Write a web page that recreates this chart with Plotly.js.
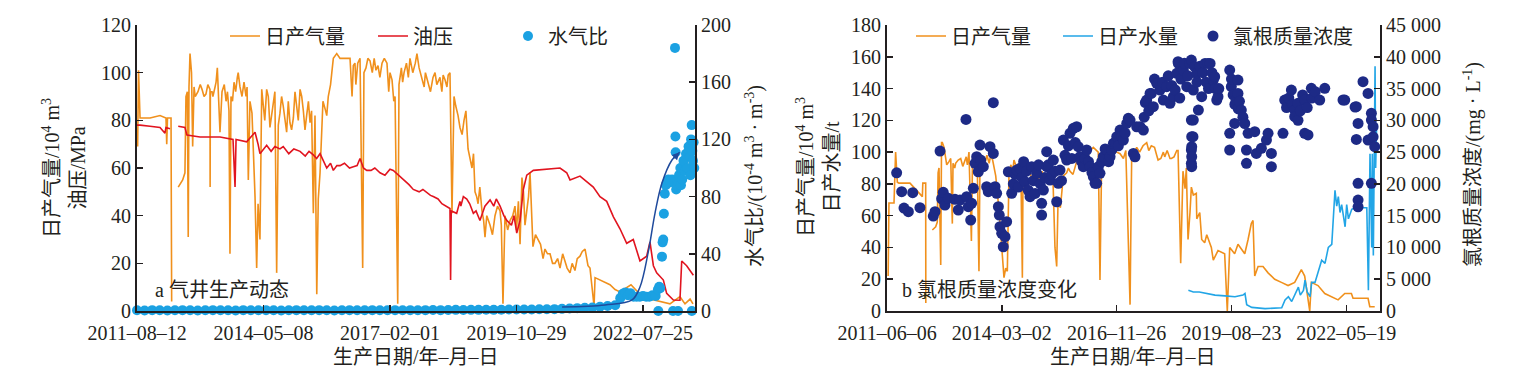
<!DOCTYPE html>
<html>
<head>
<meta charset="utf-8">
<script src="https://cdn.plot.ly/plotly-3.0.1.min.js"></script>
<style>html,body{margin:0;padding:0;background:#fff;}#chart{width:1518px;height:377px;}</style>
</head>
<body>
<div id="chart"></div>
<script>
// ---------- DATA (x = days since first tick date) ----------
const tickDays = [0, 1000, 2000, 3000, 4000];
const tickTextA = ['2011–08–12', '2014–05–08', '2017–02–01', '2019–10–29', '2022–07–25'];
const tickTextB = ['2011–06–06', '2014–03–02', '2016–11–26', '2019–08–23', '2022–05–19'];

// Panel a: daily gas (10^4 m3)
const gasA = [
 [5,69],[12,101],[24,81],[103,81],[182,82],[229,81],[235,70],[241,81],[269,81],[274,4],
 [300,null],[326,52],[361,55],[379,58],[387,90],[398,92],[405,31],[411,94],[419,108],[431,100],
 [440,69],[451,94],[482,92],[514,93],[545,91],[577,93],[578,52],[580,92],[593,92],[617,94],
 [635,102],[656,75],[672,92],[704,88],[727,84],[735,24],[743,90],[767,96],[793,98],[814,94],
 [846,96],[862,90],[880,55],[893,88],[909,83],[933,48],[946,18],[957,45],[972,30],[986,93],
 [998,85],[1010,80],[1025,93],[1038,90],[1051,77],[1064,82],[1077,88],[1090,92],[1104,16],[1117,78],
 [1130,83],[1143,90],[1156,86],[1170,80],[1183,75],[1196,88],[1209,79],[1222,76],[1236,81],[1249,92],
 [1262,86],[1275,80],[1289,93],[1302,90],[1315,84],[1328,76],[1341,82],[1355,88],[1368,79],[1380,84],
 [1394,41],[1407,82],[1421,7],[1433,47],[1447,58],[1460,80],[1486,85],[1512,90],[1552,106],[1579,108],
 [1605,106],[1684,106],[1723,104],[1763,106],[1784,18],[1794,100],[1842,105],[1889,101],[1937,104],[1976,104],
 [2016,97],[2040,90],[2061,3],[2071,95],[2111,100],[2158,106],[2213,108],[2253,98],[2300,96],[2356,100],
 [2395,98],[2435,97],[2474,100],[2490,41],[2506,90],[2538,82],[2553,77],[2585,80],[2617,68],[2648,60],
 [2672,50],[2696,45],[2727,42],[2751,31],[2791,36],[2830,40],[2870,42],[2893,3],[2909,40],[2949,38],
 [2988,44],[3028,28],[3043,56],[3067,36],[3107,58],[3130,27],[3170,30],[3225,26],[3265,24],[3304,20],
 [3344,18],[3383,21],[3423,16],[3462,17],[3502,23],[3542,26],[3565,19],[3581,18],[3613,2],[3621,14],
 [3660,13],[3739,11],[3779,9],[3818,8],[3905,11],[3976,7],[4055,5],[4134,4],[4213,3],[4292,6],
 [4332,3],[4372,5],[4395,3],
 [460,90],[500,95],[530,90],[560,95],[600,90],[625,96],[645,90],[690,95],[715,92],[755,88],
 [780,92],[800,100],[830,90],[870,94],[1470,88],[1500,82],[1530,95],[1540,100],[1690,98],[1700,90],
 [1710,103],[1730,95],[1745,104],[1810,102],[1825,106],[1860,100],[1875,106],[1905,103],[1920,98],[1955,106],
 [1990,92],[2000,100],[2030,88],[2090,102],[2100,96],[2130,104],[2145,98],[2180,100],[2200,104],[2230,102],
 [2270,94],[2280,100],[2320,92],[2340,98],[2370,95],[2410,92],[2420,99],[2450,94],[2460,99],[2520,86],
 [2570,74],[2600,84],[2630,64],[2660,66],[2685,48],[2710,52],[2740,38],[2765,40],[2810,32],[2850,44],
 [2880,36],[2930,34],[2970,40],[3000,34],[3015,46],[3055,50],[3080,42],[3095,48],[3120,35],[3150,32],
 [3190,28],[3210,22],[3245,24],[3285,20],[3325,22],[3365,24],[3400,18],[3440,20],[3480,22],[3520,25]
];
// Panel a: tubing pressure (MPa)
const presA = [
 [0,78],[24,78],[103,77.5],[182,77],[221,74.6],[229,77],[261,76.5],[290,null],[326,77.5],[379,77],
 [395,73.8],[498,73],[656,73],[759,72],[775,52],[783,72],[867,71],[933,75],[957,70],[972,66],
 [1025,69.5],[1130,68],[1156,69],[1289,67],[1394,65.5],[1447,66],[1552,59],[1605,61],[1710,60.5],[1763,64],
 [1816,59],[1921,58],[2026,59],[2079,56.5],[2184,51],[2290,49.7],[2342,48],[2448,43.8],[2474,43],[2479,13],
 [2484,42],[2527,41],[2553,46],[2607,47],[2659,41],[2711,38],[2791,46.6],[2870,44],[2923,38],[3002,32.7],
 [3028,38],[3054,51],[3081,57],[3133,59],[3239,59.5],[3344,60],[3397,58],[3423,55],[3502,56.6],[3607,52],
 [3660,48],[3713,46],[3766,39.5],[3818,34.5],[3871,28.4],[3923,30],[3976,21],[4029,23],[4055,29],[4082,19],
 [4108,16],[4161,13],[4187,7.4],[4240,4.6],[4292,4.5],[4306,21],[4345,19],[4398,15],
 [1060,67],[1090,69],[1200,66],[1240,68],[1330,65],[1360,67],[1420,64],[1500,60],[1530,62],[1580,61],
 [1640,62],[1680,60],[1740,61],[1790,60],[1850,59],[1880,60],[1960,57],[2000,59.5],[2110,55],[2150,53],
 [2230,50],[2260,51],[2320,48.5],[2380,47],[2410,45],[2560,44],[2580,48],[2630,45],[2680,42],[2750,44],
 [2820,44],[2840,47],[2900,40],[2960,36],[2980,40]
];
// Panel a: water-gas ratio (10^-4 m3/m3)
const wgrA = [
 [0,0.5],[60,0.4],[120,0.6],[180,0.5],[240,0.4],[300,0.5],[360,0.6],[420,0.5],[480,0.4],[540,0.5],
 [600,0.6],[660,0.5],[720,0.5],[780,0.4],[840,0.6],[900,0.5],[960,0.5],[1020,0.6],[1080,0.5],[1140,0.4],
 [1200,0.5],[1260,0.6],[1320,0.5],[1380,0.5],[1440,0.6],[1500,0.5],[1560,0.4],[1620,0.5],[1680,0.6],[1740,0.5],
 [1800,0.5],[1860,0.6],[1920,0.5],[1980,0.5],[2040,0.6],[2100,0.5],[2160,0.6],[2220,0.5],[2280,0.6],[2340,0.7],
 [2400,0.6],[2460,0.7],[2520,0.8],[2580,0.7],[2640,0.8],[2700,0.8],[2760,0.9],[2820,0.8],[2880,0.9],[2940,1.0],
 [3000,1.0],[3060,1.1],[3120,1.0],[3180,1.2],[3240,1.2],[3300,1.3],
 [3360,1.5],[3420,1.8],[3480,2],[3540,2.2],[3600,2.5],[3660,3],[3720,3.5],[3780,4],[3820,9],[3840,12],
 [3860,13],[3880,11],[3900,12.5],[3925,10],[3950,10],[3975,10],[4000,10.5],[4025,10],[4050,10],[4075,11],
 [4100,10.5],[4118,15],[4121,0],[4128,17],[4136,16],[4150,38],[4155,48],[4160,50],[4165,68],[4172,82],
 [4180,88],[4190,90],[4200,92],[4215,90],[4230,92],[4237,0],[4245,90],[4253,184],[4256,122],[4258,111],
 [4262,85],[4270,88],[4277,0],[4285,95],[4295,100],[4300,88],[4310,92],[4320,105],[4330,98],[4340,110],
 [4350,100],[4360,115],[4370,108],[4375,95],[4380,120],[4385,130],[4386,0],[4390,112],[4395,105],[4400,118],
 [4405,100],[4412,107]
];
// Panel a: hand-drawn trend arrow of water-gas ratio
const trendA = [[3360,2.8],[3700,4.2],[3913,7.7],[3976,16.8],[4040,40.6],[4095,68.5],[4150,89.5],[4229,105.6],[4290,111]];

// Panel b: daily gas (10^4 m3)
const gasB = [
 [10,22],[17,68],[61,68],[75,100],[90,81],[104,80.5],[200,80.5],[308,72],[312,80.5],[337,80.5],
 [338,5],[360,null],[395,51],[424,53],[438,56],[445,87],[453,90],[468,29],[475,106],[482,106],
 [497,103],[511,95],[540,94],[569,55],[575,93],[598,93],[642,96],[671,93],[714,100],[735,44],
 [745,96],[758,96],[801,25],[810,94],[830,96],[903,98],[947,85],[976,63],[1004,34],[1019,21],
 [1034,27],[1048,25],[1063,88],[1106,95],[1135,86],[1179,21],[1185,89],[1193,89],[1252,86],[1309,88],
 [1368,84],[1426,80],[1446,82],[1463,40],[1478,28],[1490,70],[1510,65],[1536,85],[1565,87],[1594,88],
 [1652,94],[1710,99],[1797,103],[1840,100],[1855,19.5],[1870,96],[1930,98],[2001,100],[2059,96],[2117,4],
 [2131,96],[2175,103],[2262,106],[2302,104],[2349,98],[2361,95],[2407,100],[2419,97],[2465,96],[2477,96],
 [2524,101],[2535,101],[2558,30],[2578,88],[2596,77],[2607,90],[2622,45],[2639,62],[2651,78],[2668,73],
 [2694,74],[2698,58],[2724,62],[2741,45],[2767,43],[2785,48],[2825,40],[2842,32],[2872,36],[2883,38],
 [2941,36],[2964,0],[2985,40],[3028,36],[3057,42],[3116,36],[3145,45],[3173,55],[3188,57],[3203,22],
 [3232,28],[3275,28],[3319,24],[3377,20],[3435,18],[3493,16],[3551,18],[3609,26],[3638,22],[3682,0],
 [3696,18],[3754,16],[3813,11],[3870,9],[3929,7],[3987,11],[4045,11],[4059,8],[4190,8],[4205,2.7],
 [4248,2.7],
 [520,92],[555,96],[590,90],[620,95],[660,91],[690,97],[700,92],[770,92],[785,97],[850,92],
 [870,98],[890,93],[920,95],[1080,92],[1090,85],[1120,92],[1150,88],[1165,94],[1210,84],[1230,90],
 [1270,82],[1290,90],[1330,80],[1350,88],[1390,82],[1410,86],[1580,90],[1620,86],[1680,96],[1740,96],
 [1770,101],[1900,95],[1960,103],[2030,99],[2080,101],[2150,98],[2200,100],[2230,104],[2280,101],[2330,103],
 [2385,96],[2440,101],[2500,97]
];
// Panel b: daily water (t)
const waterB = [
 [2625,13],[2668,12],[2720,12],[2780,11],[2857,10],[2944,9.5],[3031,9],[3100,10],[3118,11],[3133,4],
 [3177,2.3],[3293,1.5],[3438,2],[3467,7],[3496,9],[3525,6],[3554,11],[3583,15],[3600,10],[3627,13],
 [3641,19.5],[3660,12],[3685,9],[3699,18],[3728,18],[3757,25],[3786,32],[3815,30],[3844,40],[3874,42],
 [3888,56],[3902,76],[3917,66],[3931,72],[3946,62],[3960,67],[3975,60],[3990,53],[4004,67],[4019,58],
 [4048,64],[4077,65],[4179,65],[4193,13],[4207,99],[4222,40],[4227,99],[4236,35],[4251,154],[4256,90],
 [4265,118]
];
// Panel b: chloride mass concentration (mg/L)
const clB = [
 [84,21750],[128,18770],[148,16200],[186,15620],[224,18610],[287,16250],[403,14940],[418,15620],[462,25170],[476,17660],
 [490,18670],[505,16670],[534,17730],[592,17570],[621,15890],[636,17460],[688,30150],[694,17980],[708,16410],[729,14310],
 [737,16940],[752,19300],[767,23230],[781,24270],[795,21910],[810,26110],[816,23750],[839,22700],[868,19550],[882,18770],
 [897,25850],[926,24800],[926,32770],[941,19550],[955,18510],[970,16410],[978,15100],[984,13260],[999,12220],[1013,10110],
 [1028,11690],[1042,14050],[1057,21910],[1086,18510],[1100,20000],[1115,21500],[1130,22180],[1145,19500],[1159,22450],[1175,21000],
 [1190,23500],[1202,20340],[1215,22000],[1230,19000],[1246,17980],[1260,22700],[1275,20500],[1290,18500],[1304,21660],[1320,23000],
 [1335,20000],[1347,15100],[1347,16940],[1362,19030],[1375,21000],[1391,22700],[1391,25060],[1405,23000],[1420,20610],[1435,21500],
 [1449,23750],[1465,22000],[1478,17190],[1492,20090],[1507,22180],[1520,20500],[1536,26900],[1550,24500],[1565,23750],[1580,26000],
 [1594,27950],[1610,24000],[1623,28740],[1640,26500],[1652,28990],[1666,25850],[1681,24270],[1695,23500],[1710,22700],[1725,24000],
 [1739,25330],[1755,23500],[1768,22700],[1785,21800],[1797,21130],[1812,20090],[1826,20090],[1841,22700],[1855,21660],[1870,23500],
 [1884,24270],[1900,25500],[1914,25330],[1930,23500],[1943,24270],[1957,25300],[1972,26380],[1987,26500],[2001,27420],[2015,26000],
 [2030,28470],[2045,27500],[2059,26900],[2074,28000],[2088,29520],[2102,30310],[2117,30040],[2146,24800],[2160,24270],[2175,28990],
 [2204,28990],[2233,28470],[2240,30500],[2250,32800],[2262,33190],[2280,31500],[2291,34240],[2302,34240],[2320,32140],[2330,36500],
 [2349,35820],[2361,35820],[2378,34760],[2400,36000],[2407,33190],[2436,35290],[2450,37000],[2465,32670],[2480,35500],[2494,33720],
 [2510,34800],[2524,37390],[2535,39220],[2538,38960],[2550,33500],[2560,36500],[2581,37910],[2590,39000],[2611,35290],[2620,37000],
 [2639,38960],[2651,39480],[2651,30040],[2651,25330],[2651,23230],[2654,27420],[2654,25850],[2654,24270],[2654,22700],[2665,27420],
 [2668,34760],[2668,30040],[2680,38440],[2698,37390],[2700,36000],[2712,31620],[2725,38500],[2741,33720],[2750,37500],[2770,38960],
 [2780,36000],[2796,38960],[2800,35000],[2814,38960],[2830,37500],[2842,36340],[2854,36860],[2860,35000],[2872,33190],[2883,33720],
 [2890,35000],[2985,37910],[2985,27950],[2985,25330],[2999,35290],[3000,36500],[3015,34000],[3028,29520],[3030,32500],[3040,33190],
 [3057,36340],[3057,34240],[3060,31800],[3070,33000],[3086,31620],[3100,30500],[3116,29500],[3131,25330],[3131,23230],[3145,27950],
 [3203,28210],[3217,24800],[3261,25600],[3305,26900],[3319,27950],[3348,22700],[3348,24800],[3449,27950],[3464,33190],[3480,32000],
 [3500,33500],[3522,34760],[3530,32500],[3551,31620],[3551,30570],[3580,32670],[3580,30000],[3600,31500],[3620,34000],[3638,33190],
 [3638,27950],[3660,32000],[3667,27700],[3696,35030],[3700,33500],[3730,34500],[3769,33190],[3813,35030],[3972,33200],[3987,33190],
 [4077,32100],[4088,32140],[4088,27000],[4103,29520],[4103,20090],[4103,17460],[4103,16400],[4146,36080],[4190,34240],[4190,26900],
 [4219,20090],[4219,31100],[4219,30040],[4234,29000],[4234,27400],[4248,25850]
];

// ---------- STYLE ----------
const C = {orange:'#f0901c', red:'#e1141f', sky:'#1ba1e2', skyLine:'#22a5e6', navy:'#1d2a86', arrow:'#1f4a9c', ink:'#231f20'};
const FONT = 'Liberation Serif, Noto Sans CJK SC, serif';
const sorted = a => a.slice().sort((p, q) => p[0] - q[0]);
const xs = a => sorted(a).map(p => p[0]);
const ys = a => sorted(a).map(p => p[1]);

const traces = [
  {x: xs(gasA), y: ys(gasA), xaxis:'x', yaxis:'y', type:'scatter', mode:'lines', name:'日产气量',
   line:{color:C.orange, width:1.6}, connectgaps:false, legend:'legend'},
  {x: xs(presA), y: ys(presA), xaxis:'x', yaxis:'y', type:'scatter', mode:'lines', name:'油压',
   line:{color:C.red, width:1.6}, connectgaps:false, legend:'legend2'},
  {x: xs(wgrA), y: ys(wgrA), xaxis:'x', yaxis:'y2', type:'scatter', mode:'markers', name:'水气比',
   marker:{color:C.sky, size:10}, cliponaxis:false, legend:'legend3'},
  {x: xs(trendA), y: ys(trendA), xaxis:'x', yaxis:'y2', type:'scatter', mode:'lines', showlegend:false,
   line:{color:C.arrow, width:1.5, shape:'spline'}},
  {x: xs(gasB), y: ys(gasB), xaxis:'x2', yaxis:'y3', type:'scatter', mode:'lines', name:'日产气量',
   line:{color:C.orange, width:1.6}, connectgaps:false, legend:'legend4'},
  {x: xs(waterB), y: ys(waterB), xaxis:'x2', yaxis:'y3', type:'scatter', mode:'lines', name:'日产水量',
   line:{color:C.skyLine, width:1.6}, legend:'legend5'},
  {x: xs(clB), y: ys(clB), xaxis:'x2', yaxis:'y4', type:'scatter', mode:'markers', name:'氯根质量浓度',
   marker:{color:C.navy, size:11}, cliponaxis:false, legend:'legend6'}
];

const ydom = [1 - 311/377, 1 - 25/377];
const axBase = {showline:true, linecolor:C.ink, linewidth:2, ticks:'inside', ticklen:6, tickwidth:1.5,
  tickcolor:C.ink, showgrid:false, zeroline:false, tickfont:{family:FONT, size:20, color:C.ink}};
const xBase = Object.assign({}, axBase, {ticklabelstandoff:3});

const leg = x => ({orientation:'h', yanchor:'middle', y:1 - 36/377, xanchor:'left', x:x/1518,
  bgcolor:'rgba(0,0,0,0)', font:{family:FONT, size:20, color:C.ink}});

const ann = (text, x, y, extra) => Object.assign({text, x:x/1518, y:1 - y/377, xref:'paper', yref:'paper',
  xanchor:'center', yanchor:'middle', showarrow:false, font:{family:FONT, size:20, color:C.ink}}, extra || {});

const layout = {
  width:1518, height:377, margin:{l:0, r:0, t:0, b:0}, paper_bgcolor:'#fff', plot_bgcolor:'rgba(0,0,0,0)',
  font:{family:FONT, size:20, color:C.ink}, separators:'. ',
  xaxis: Object.assign({}, xBase, {domain:[137/1518, 695/1518], anchor:'y', range:[0,4411],
    tickvals:tickDays, ticktext:tickTextA}),
  yaxis: Object.assign({}, axBase, {domain:ydom, anchor:'x', range:[0,120], dtick:20}),
  yaxis2: Object.assign({}, axBase, {overlaying:'y', side:'right', anchor:'x', range:[0,200], dtick:40}),
  xaxis2: Object.assign({}, xBase, {domain:[887/1518, 1380/1518], anchor:'y3', range:[0,4294],
    tickvals:tickDays, ticktext:tickTextB}),
  yaxis3: Object.assign({}, axBase, {domain:ydom, anchor:'x2', range:[0,180], dtick:20}),
  yaxis4: Object.assign({}, axBase, {overlaying:'y3', side:'right', anchor:'x2', range:[0,45000], dtick:5000, tickformat:',d'}),
  legend: leg(225), legend2: leg(373), legend3: leg(508),
  legend4: leg(911), legend5: leg(1058), legend6: leg(1193),
  annotations: [
    ann('日产气量/10<sup>4</sup> m<sup>3</sup><br>油压/MPa', 64, 168, {textangle:-90}),
    ann('水气比/(10<sup>-4</sup> m<sup>3</sup> · m<sup>-3</sup>)', 754, 176, {textangle:-90}),
    ann('日产气量/10<sup>4</sup> m<sup>3</sup><br>日产水量/t', 818, 167, {textangle:-90}),
    ann('氯根质量浓度/(mg · L<sup>-1</sup>)', 1472, 165, {textangle:-90}),
    ann('生产日期/年–月–日', 416, 357),
    ann('生产日期/年–月–日', 1133, 357),
    ann('a 气井生产动态', 153, 290, {xanchor:'left'}),
    ann('b 氯根质量浓度变化', 900, 290, {xanchor:'left'}),
    {x:trendA[trendA.length-1][0], y:trendA[trendA.length-1][1], xref:'x', yref:'y2',
     ax:trendA[trendA.length-2][0], ay:trendA[trendA.length-2][1], axref:'x', ayref:'y2',
     text:'', showarrow:true, arrowhead:2, arrowsize:1, arrowwidth:1.5, arrowcolor:C.arrow}
  ]
};

Plotly.newPlot('chart', traces, layout, {displayModeBar:false, staticPlot:true});
</script>
</body>
</html>
